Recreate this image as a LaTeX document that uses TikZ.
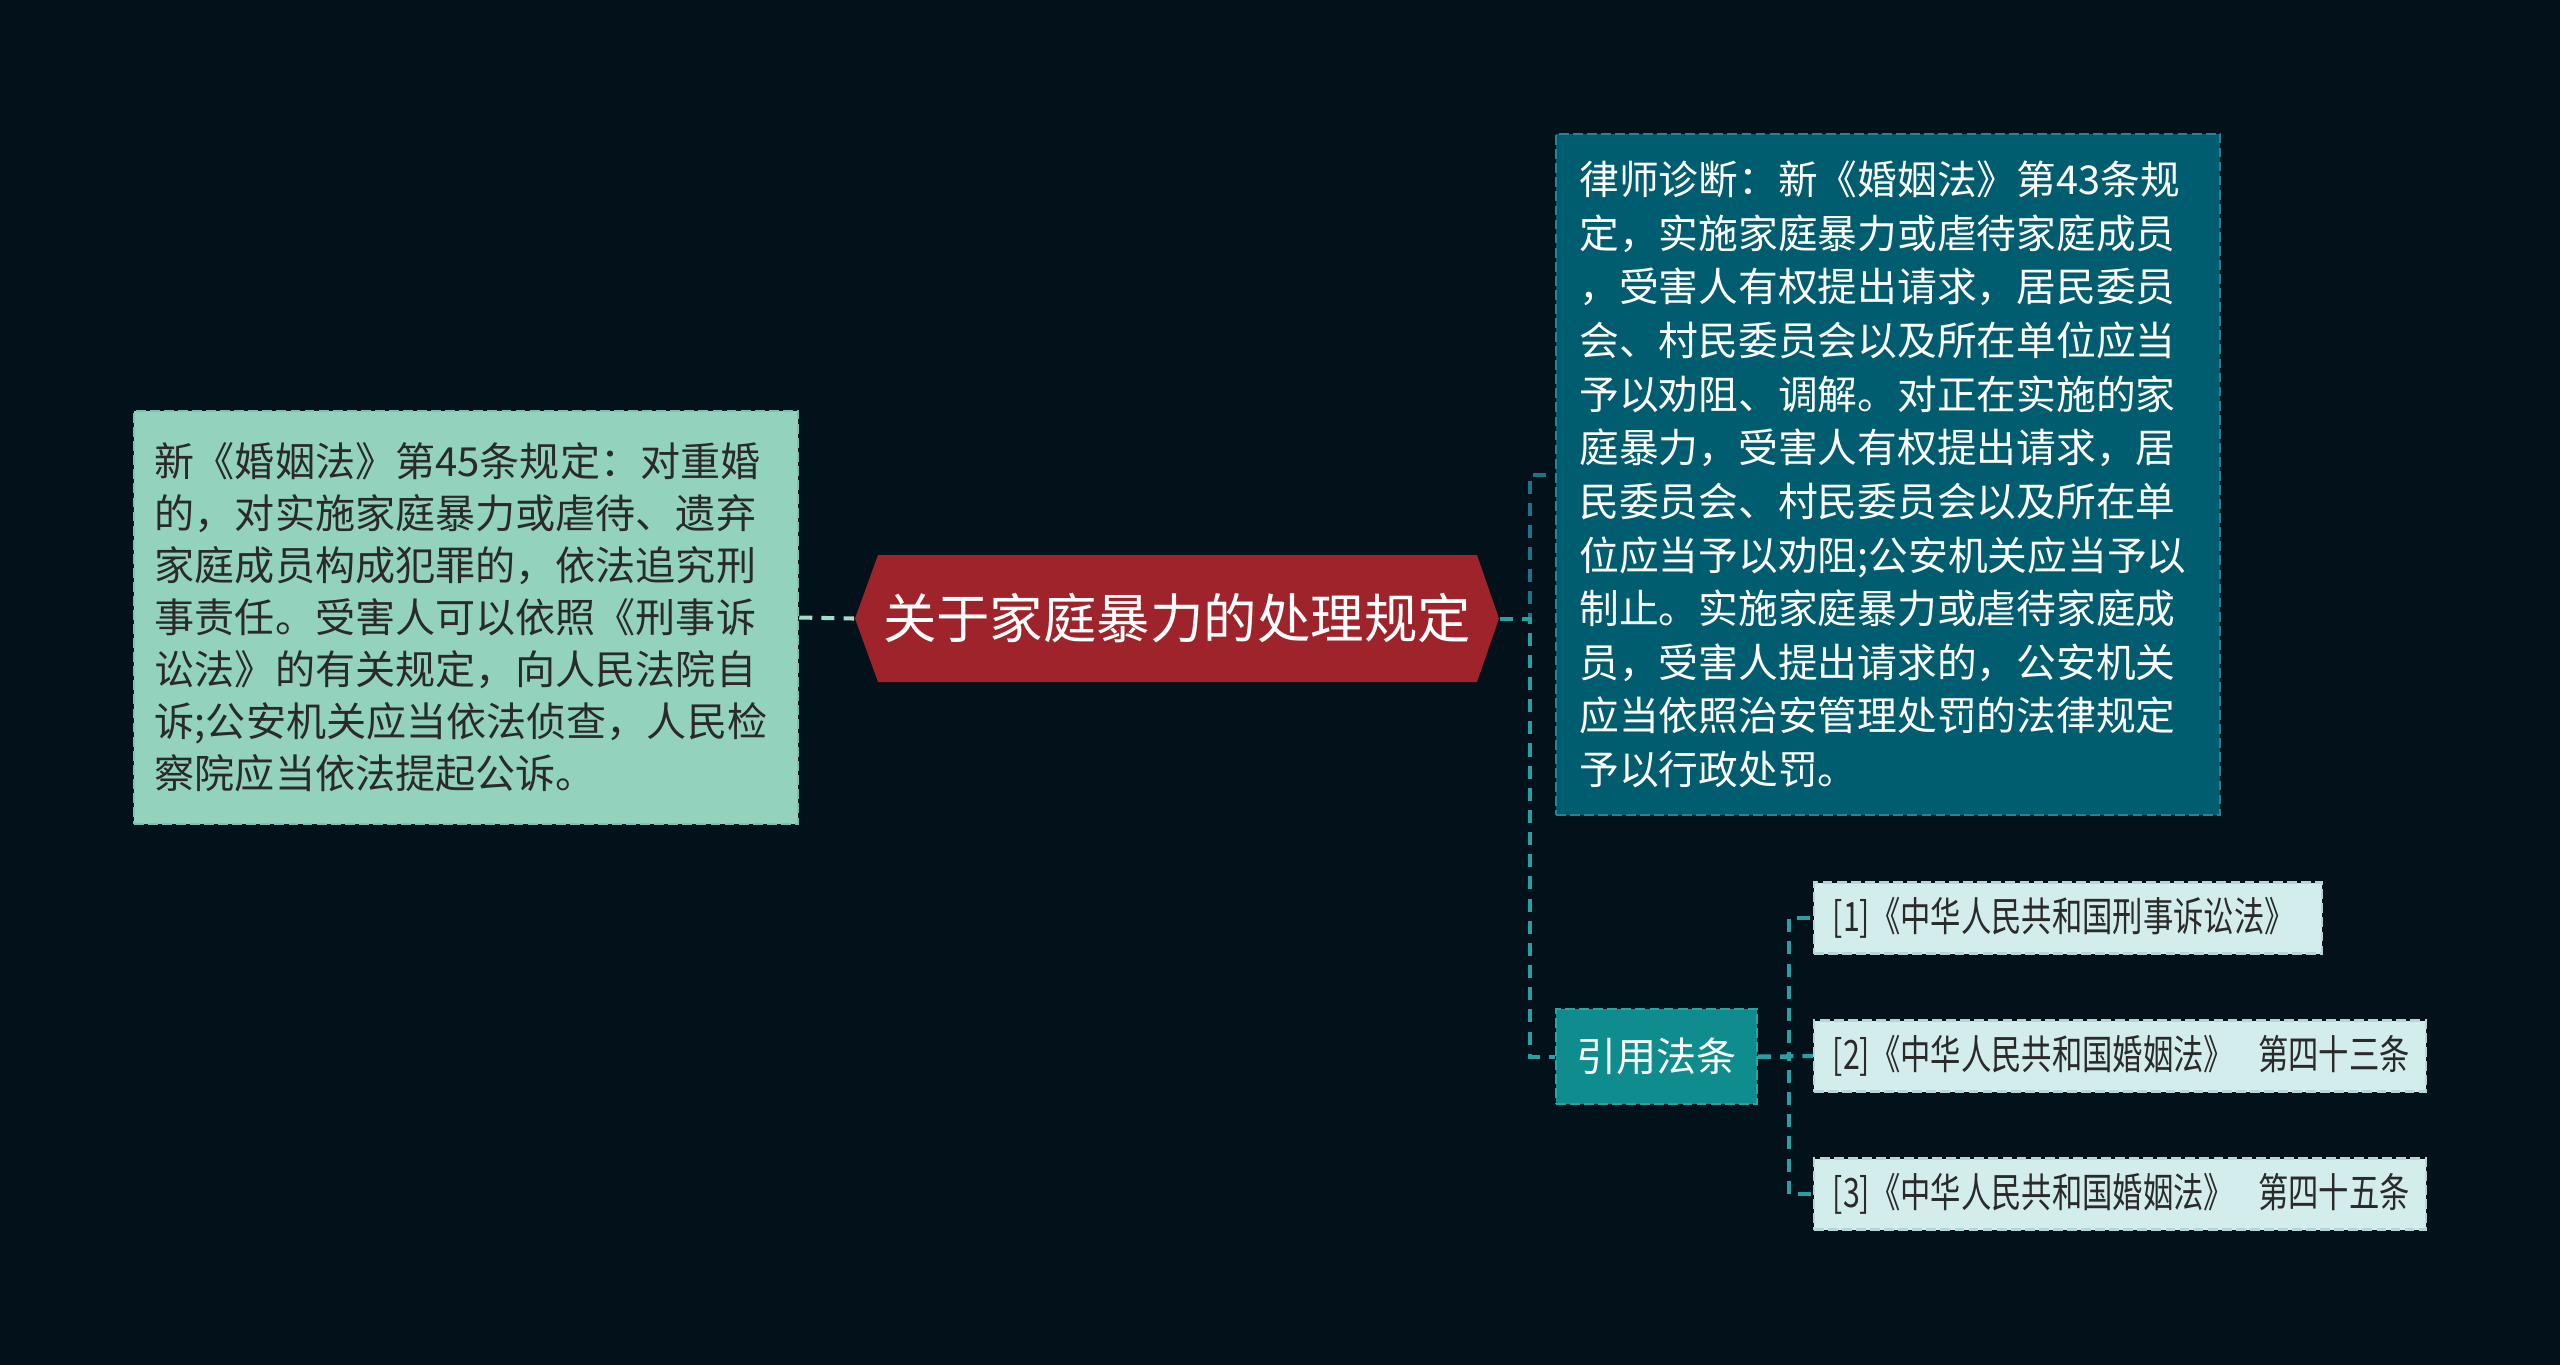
\documentclass[tikz,border=0pt]{standalone}
\usepackage{fontspec}
\setmainfont{Noto Sans CJK SC}
\newfontfamily\condcjk[FakeStretch=0.75]{Noto Sans CJK SC}
\usetikzlibrary{calc}
\definecolor{bgc}{HTML}{03111A}
\definecolor{mintfill}{HTML}{93D3BE}
\definecolor{mintdraw}{HTML}{7FC2AC}
\definecolor{mintline}{HTML}{A3DCCB}
\definecolor{hexred}{HTML}{9E232A}
\definecolor{tealfill}{HTML}{005C6F}
\definecolor{tealdraw}{HTML}{2A8395}
\definecolor{citefill}{HTML}{0F8C8E}
\definecolor{citedraw}{HTML}{2AA3A3}
\definecolor{reffill}{HTML}{D3ECEC}
\definecolor{refdraw}{HTML}{B5D6D6}
\definecolor{lineA}{HTML}{1D7488}
\definecolor{lineB}{HTML}{2A9FA1}
\definecolor{darktext}{HTML}{2A2A2A}
\tikzset{
  conn/.style={line width=1.15pt, dash pattern=on 3.7pt off 2.6pt},
  boxbase/.style={rectangle, inner sep=0pt, align=left, line width=0.6pt, dash pattern=on 2.8pt off 1.2pt},
  leftbox/.style={boxbase, fill=mintfill, draw=mintdraw, text=darktext,
     font=\fontsize{11.4pt}{14.8pt}\selectfont, minimum width=6.64cm, minimum height=4.13cm},
  rightbox/.style={boxbase, fill=tealfill, draw=tealdraw, text=white,
     font=\fontsize{11.3pt}{15.25pt}\selectfont, minimum width=6.64cm, minimum height=6.81cm},
  citebox/.style={boxbase, fill=citefill, draw=citedraw, text=white, align=center,
     font=\fontsize{11.4pt}{14pt}\selectfont, minimum width=2.01cm, minimum height=0.95cm},
  refbox/.style={boxbase, fill=reffill, draw=refdraw, text=darktext, inner xsep=0.19cm,
     font=\condcjk\fontsize{11.5pt}{13pt}\selectfont, minimum height=0.71cm},
  rootnode/.style={rectangle, inner sep=0pt, text=white, align=center,
     font=\fontsize{15.2pt}{18pt}\selectfont, minimum width=6.44cm, minimum height=1.27cm}
}
\begin{document}
\begin{tikzpicture}[x=0.01cm,y=-0.01cm]
\fill[bgc] (0,0) rectangle (2560,1365);
\useasboundingbox (0,0) rectangle (2560,1365);

% root hexagon
\fill[hexred] (855,618.5) -- (878,555) -- (1477,555) -- (1499,618.5) -- (1477,682) -- (878,682) -- cycle;
\node[rootnode] (root) at (1177,618.5) {关于家庭暴力的处理规定};

% left box
\node[leftbox] (lbox) at (466,617.5) {\hspace*{-0.1cm}新《婚姻法》第45条规定：对重婚\\
\hspace*{-0.1cm}的，对实施家庭暴力或虐待、遗弃\\
\hspace*{-0.1cm}家庭成员构成犯罪的，依法追究刑\\
\hspace*{-0.1cm}事责任。受害人可以依照《刑事诉\\
\hspace*{-0.1cm}讼法》的有关规定，向人民法院自\\
\hspace*{-0.1cm}诉;公安机关应当依法侦查，人民检\\
\hspace*{-0.1cm}察院应当依法提起公诉。};

% right big box
\node[rightbox] (rbox) at (1888,474.5) {\hspace*{-0.1cm}律师诊断：新《婚姻法》第43条规\\
\hspace*{-0.1cm}定，实施家庭暴力或虐待家庭成员\\
\hspace*{-0.1cm}，受害人有权提出请求，居民委员\\
\hspace*{-0.1cm}会、村民委员会以及所在单位应当\\
\hspace*{-0.1cm}予以劝阻、调解。对正在实施的家\\
\hspace*{-0.1cm}庭暴力，受害人有权提出请求，居\\
\hspace*{-0.1cm}民委员会、村民委员会以及所在单\\
\hspace*{-0.1cm}位应当予以劝阻;公安机关应当予以\\
\hspace*{-0.1cm}制止。实施家庭暴力或虐待家庭成\\
\hspace*{-0.1cm}员，受害人提出请求的，公安机关\\
\hspace*{-0.1cm}应当依照治安管理处罚的法律规定\\
\hspace*{-0.1cm}予以行政处罚。};

% cite node
\node[citebox] (cite) at (1656.5,1056.5) {引用法条};

% reference boxes
\node[refbox] (r1) at (2068,918) {\makebox[4.70cm][l]{[1]《中华人民共和国刑事诉讼法》}};
\node[refbox] (r2) at (2120,1056) {\makebox[5.74cm][l]{[2]《中华人民共和国婚姻法》\hspace{0.24cm}第四十三条}};
\node[refbox] (r3) at (2120,1194) {\makebox[5.74cm][l]{[3]《中华人民共和国婚姻法》\hspace{0.24cm}第四十五条}};

% connectors
\draw[conn, mintline] (lbox.east) -- (root.west);
\coordinate (t1) at (1530,618.5);
\draw[conn, lineA] (root.east) -- (t1) |- (rbox.west);
\draw[conn, lineB] (root.east) -- (t1) |- (cite.west);
\coordinate (t2) at (1789,1056.5);
\draw[conn, lineB] (cite.east) -- (t2) |- (r1.west);
\draw[conn, lineB] (cite.east) -- (r2.west);
\draw[conn, lineB] (cite.east) -- (t2) |- (r3.west);
\end{tikzpicture}
\end{document}
